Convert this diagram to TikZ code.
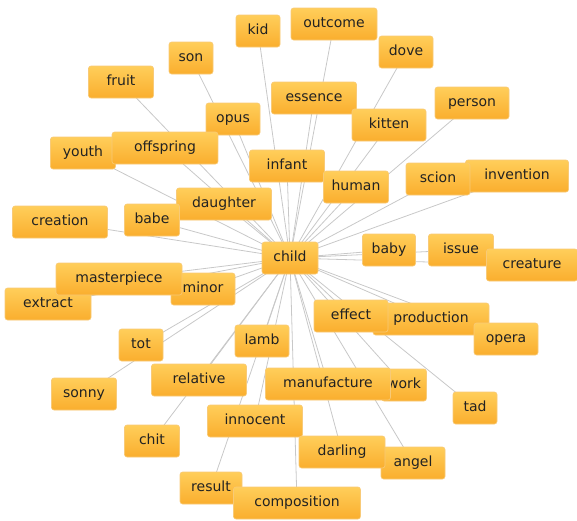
\documentclass[tikz,border=0pt]{standalone}
\usepackage{fontspec}
\setmainfont{DejaVu Sans}
\usepackage{xcolor}
\definecolor{wordtop}{HTML}{FFCE5A}
\definecolor{wordbottom}{HTML}{FAAE2E}
\definecolor{wordedge}{HTML}{F8CA78}
\definecolor{linkgray}{HTML}{C8C8C8}
\definecolor{wordtext}{HTML}{222222}
\usepackage{tikz}
\usetikzlibrary{backgrounds}

\tikzset{
  word/.style={draw=wordedge, line width=0.6pt, rounded corners=2.5pt,
    top color=wordtop, bottom color=wordbottom, text=wordtext,
    font=\fontsize{14}{16}\selectfont, minimum height=32pt, inner sep=0pt,
    text height=9.5pt, text depth=3pt},
  link/.style={draw=linkgray, line width=0.8pt}
}

\begin{document}
\begin{tikzpicture}[x=1pt,y=-1pt]
  \useasboundingbox (0,0) rectangle (577,520);
  % Words — top row
  \node[word, minimum width=44pt]  (kid)         at (258,31)  {kid};
  \node[word, minimum width=86pt]  (outcome)     at (334,24)  {outcome};
  \node[word, minimum width=44pt]  (son)         at (191,58)  {son};
  \node[word, minimum width=54pt]  (dove)        at (406,52)  {dove};
  \node[word, minimum width=65pt]  (fruit)       at (121,82)  {fruit};
  \node[word, minimum width=85pt]  (essence)     at (314,98)  {essence};
  \node[word, minimum width=74pt]  (person)      at (472,103) {person};
  \node[word, minimum width=54pt]  (opus)        at (233,119) {opus};
  \node[word, minimum width=74pt]  (kitten)      at (389,125) {kitten};
  \node[word, minimum width=65pt]  (youth)       at (83,153)  {youth};
  \node[word, minimum width=106pt] (offspring)   at (165,148) {offspring};
  \node[word, minimum width=75pt]  (infant)      at (287,166) {infant};
  \node[word, minimum width=65pt]  (human)       at (356,187) {human};
  \node[word, minimum width=103pt] (invention)   at (517,176) {invention};
  \node[word, minimum width=64pt]  (scion)       at (438,179) {scion};
  \node[word, minimum width=95pt]  (daughter)    at (224,204) {daughter};
  % Middle row
  \node[word, minimum width=95pt]  (creation)    at (60,222)  {creation};
  \node[word, minimum width=55pt]  (babe)        at (152,220) {babe};
  \node[word, minimum width=56pt]  (child)       at (290,258) {child};
  \node[word, minimum width=53pt]  (baby)        at (389,250) {baby};
  \node[word, minimum width=65pt]  (issue)       at (461,250) {issue};
  \node[word, minimum width=91pt]  (creature)    at (532,265) {creature};
  \node[word, minimum width=64pt]  (minor)       at (203,289) {minor};
  \node[word, minimum width=86pt]  (extract)     at (48,304)  {extract};
  \node[word, minimum width=126pt] (masterpiece) at (119,279) {masterpiece};
  \node[word, minimum width=116pt] (production)  at (431,319) {production};
  \node[word, minimum width=74pt]  (effect)      at (351,316) {effect};
  \node[word, minimum width=64pt]  (opera)       at (506,339) {opera};
  % Bottom rows
  \node[word, minimum width=44pt]  (tot)         at (141,345) {tot};
  \node[word, minimum width=54pt]  (lamb)        at (262,341) {lamb};
  \node[word, minimum width=95pt]  (relative)    at (199,380) {relative};
  \node[word, minimum width=45pt]  (work)        at (404,385) {work};
  \node[word, minimum width=125pt] (manufacture) at (328,384) {manufacture};
  \node[word, minimum width=65pt]  (sonny)       at (84,394)  {sonny};
  \node[word, minimum width=44pt]  (tad)         at (475,408) {tad};
  \node[word, minimum width=95pt]  (innocent)    at (255,421) {innocent};
  \node[word, minimum width=55pt]  (chit)        at (152,441) {chit};
  \node[word, minimum width=64pt]  (angel)       at (413,463) {angel};
  \node[word, minimum width=86pt]  (darling)     at (342,452) {darling};
  \node[word, minimum width=62pt]  (result)      at (211,488) {result};
  \node[word, minimum width=127pt] (composition) at (297,503) {composition};
  % Links — all to child, behind the words
  \begin{scope}[on background layer]
    \foreach \w in {kid,outcome,son,dove,fruit,essence,person,opus,kitten,
      youth,offspring,infant,human,invention,scion,daughter,creation,babe,
      baby,issue,creature,minor,extract,masterpiece,production,effect,opera,
      tot,lamb,relative,work,manufacture,sonny,tad,innocent,chit,angel,
      darling,result,composition}
      \draw[link] (child.center) -- (\w.center);
  \end{scope}
\end{tikzpicture}
\end{document}
